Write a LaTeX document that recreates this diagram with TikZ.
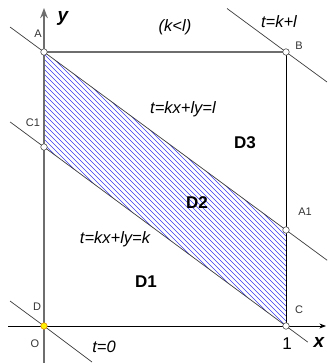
\documentclass[tikz,border=0pt]{standalone}
\usepackage{fontspec}
\setmainfont{Liberation Sans}
\usetikzlibrary{positioning,arrows.meta,calc}
\definecolor{lpgray}{HTML}{6E6E6E}
\definecolor{lpline}{HTML}{3C3C3C}
\definecolor{lpblue}{HTML}{3A3AF0}
\definecolor{lporange}{HTML}{E88A00}

\begin{document}
\begin{tikzpicture}[x=1pt,y=-1pt,>=Stealth]
  \tikzstyle{pnt}=[circle,draw=black!70,fill=white,inner sep=0pt,minimum size=6.5pt,line width=0.6pt]
  \tikzstyle{lab}=[font=\fontsize{11}{11}\selectfont,text=black!80]
  \tikzstyle{eq}=[font=\fontsize{16.5}{16.5}\selectfont\itshape]
  \tikzstyle{reg}=[font=\fontsize{17}{17}\selectfont\bfseries]
  \tikzstyle{ax}=[font=\fontsize{19}{19}\selectfont\bfseries\itshape]
  \tikzstyle{thin}=[lpline,line width=0.7pt]
  \tikzstyle{hatch}=[lpblue,line width=0.5pt]
  \useasboundingbox (0,0) rectangle (327,363);
  % corners and the points on the sides
  \coordinate (O) at (44,326);
  \coordinate (A) at (44,52);
  \coordinate (B) at (286,52);
  \coordinate (C) at (286,326);
  \coordinate (C1) at (44,147);
  \coordinate (A1) at (286,230);
  % hatched strip D2
  \begin{scope}
    \clip (A) -- (A1) -- (C) -- (C1) -- cycle;
    \foreach \i in {-110,-105,...,60} \draw[hatch] (\i,0) -- ++(400,400);
  \end{scope}
  % axes
  \coordinate (xs) at (8,326);  \coordinate (xe) at (326,326);
  \coordinate (ys) at (44,363); \coordinate (ye) at (44,8);
  \draw[->,line width=0.8pt] (xs) -- (xe);
  \draw[->,lpgray,line width=1.6pt] (ys) -- (ye);
  % square
  \draw[lpgray,line width=1.6pt] (A) -- (B);
  \draw[line width=0.8pt] (B) -- (C);
  % level lines t=const
  \coordinate (a0) at ($(A)!-0.14!(A1)$);   \coordinate (a1) at ($(A)!1.17!(A1)$);
  \coordinate (c0) at ($(C1)!-0.14!(C)$);   \coordinate (c1) at ($(C1)!1.09!(C)$);
  \coordinate (o0) at ($(O)+(-34,-25)$);    \coordinate (o1) at ($(O)+(48,36)$);
  \coordinate (b0) at ($(B)+(-59,-43.5)$);  \coordinate (b1) at ($(B)+(41,30)$);
  \draw[thin] (a0) -- (A) -- (A1) -- (a1);
  \draw[thin] (c0) -- (C1) -- (C) -- (c1);
  \draw[thin] (o0) -- (O) -- (o1);
  \draw[thin] (b0) -- (B) -- (b1);
  \draw[line width=0.8pt] (A1) -- (C);
  % points
  \foreach \p in {A,B,C,C1,A1} \node[pnt] (p\p) at (\p) {};
  \node[pnt,fill=yellow,draw=lporange,minimum size=6.5pt] (pO) at (O) {};
  % point labels
  \node[lab] (lA) at (38,34) {A};
  \node[lab] (lB) at (299,46) {B};
  \node[lab] (lC) at (299,310) {C};
  \node[lab] (lC1) at (33,123) {C1};
  \node[lab] (lA1) at (305,212) {A1};
  \node[lab] (lD) at (37,307) {D};
  \node[lab] (lO) at (35,344) {O};
  \node[font=\fontsize{17}{17}\selectfont] (one) at (287,344) {1};
  \node[ax] (lx) at (319,342) {x};
  \node[ax] (ly) at (63,18) {y};
  % level line labels
  \node[eq] (kl) at (175,27) {(k<l)};
  \node[eq] (tb) at (279,22) {t=k+l};
  \node[eq] (tl) at (183,109) {t=kx+ly=l};
  \node[eq] (tk) at (115,239) {t=kx+ly=k};
  \node[eq] (t0) at (104,347) {t=0};
  % regions
  \node[reg] (d3) at (245,143) {D3};
  \node[reg] (d2) at (197,203) {D2};
  \node[reg] (d1) at (146,282) {D1};
\end{tikzpicture}
\end{document}
